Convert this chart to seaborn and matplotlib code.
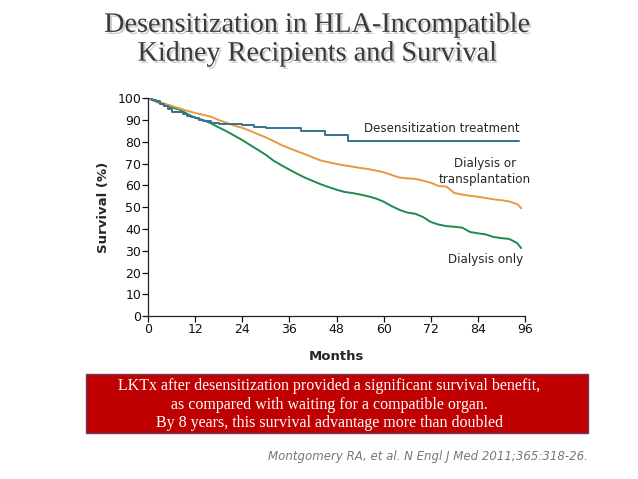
import numpy as np
import pandas as pd
import seaborn as sns
import matplotlib.pyplot as plt
import matplotlib.patheffects as pe
from matplotlib.patches import Rectangle

# 데이터
months = [0, 2, 4, 6, 8, 10, 12, 14, 16, 18, 20, 22, 24, 26, 28, 30, 32, 34, 36, 38,
          40, 42, 44, 46, 48, 50, 52, 54, 56, 58, 60, 62, 64, 66, 68, 70, 72, 74, 76, 78,
          80, 82, 84, 86, 88, 90, 92, 94, 95]

dialysis_or_tx = [100, 98.8, 97.6, 96.5, 95.3, 94.2, 93.2, 92.4, 91.5, 90, 88.7, 87.4,
                  86.4, 85, 83.5, 82, 80.3, 78.5, 77, 75.6, 74.3, 72.8, 71.4, 70.6, 69.8,
                  69.2, 68.6, 68, 67.5, 66.8, 66, 64.8, 63.6, 63.2, 63, 62.2, 61.2, 59.7,
                  59.4, 56.5, 55.8, 55.2, 54.8, 54.2, 53.6, 53.2, 52.6, 51.4, 49.5]

dialysis_only = [100, 98.5, 97, 95.8, 94.8, 92.8, 91, 90, 88.5, 86.6, 84.8, 82.8, 80.8,
                 78.5, 76.3, 74, 71.3, 69.2, 67.2, 65.3, 63.5, 62, 60.5, 59.2, 58, 57,
                 56.5, 55.8, 55, 54, 52.5, 50.5, 48.8, 47.5, 47, 45.5, 43.2, 42, 41.3, 41,
                 40.6, 38.6, 38, 37.5, 36.3, 35.8, 35.4, 33.5, 31.2]

desens_months = [0, 1, 2, 3, 4, 5, 6, 9, 10, 11, 12, 13, 14, 16, 18, 24, 27, 30, 39, 45, 51, 94.5]
desens_surv = [100, 99, 98.5, 97.5, 96.3, 95, 93.5, 92.8, 92, 91.5, 91, 90.2, 89.5, 88.8,
               88.3, 87.6, 86.8, 86.2, 85, 83.1, 80.5, 80.5]

x_ticks = [0, 12, 24, 36, 48, 60, 72, 84, 96]
y_ticks = list(range(0, 101, 10))

df = pd.DataFrame({'Months': months,
                   'Dialysis or transplantation': dialysis_or_tx,
                   'Dialysis only': dialysis_only})
df_des = pd.DataFrame({'Months': desens_months, 'Survival': desens_surv})

c_blue = '#35728f'
c_orange = '#e8983e'
c_green = '#1f8a4f'

sns.set_style('ticks')
plt.rcParams['font.family'] = ['DejaVu Sans']

fig = plt.figure(figsize=(6.38, 4.79), dpi=100)
ax = fig.add_axes([0.232, 0.340, 0.591, 0.455])

sns.lineplot(data=df, x='Months', y='Dialysis only', color=c_green, lw=1.4, ax=ax)
sns.lineplot(data=df, x='Months', y='Dialysis or transplantation', color=c_orange, lw=1.4, ax=ax)
sns.lineplot(data=df_des, x='Months', y='Survival', color=c_blue, lw=1.4,
             drawstyle='steps-post', ax=ax)

ax.set_xlim(0, 96)
ax.set_ylim(0, 100)
ax.set_xticks(x_ticks)
ax.set_yticks(y_ticks)
ax.tick_params(labelsize=9, length=4, width=0.9, colors='#111111', pad=1)
for s in ['left', 'bottom']:
    ax.spines[s].set_color('#222222')
    ax.spines[s].set_linewidth(0.9)
sns.despine(ax=ax)
ax.set_xlabel('Months', fontsize=9.5, fontweight='bold', labelpad=10)
ax.set_ylabel('Survival (%)', fontsize=9.5, fontweight='bold', labelpad=5)

# 곡선 라벨
ax.text(94.5, 86.0, 'Desensitization treatment', ha='right', va='center', fontsize=8.6)
ax.text(85.8, 66.2, 'Dialysis or\ntransplantation', ha='center', va='center',
        fontsize=8.6, linespacing=1.3)
ax.text(86.0, 26.2, 'Dialysis only', ha='center', va='center', fontsize=8.6)

# 제목
fig.text(0.498, 0.917, 'Desensitization in HLA-Incompatible\nKidney Recipients and Survival',
         ha='center', va='center', fontsize=20.3, family='Liberation Serif', color='#3a3a3a',
         linespacing=1.2,
         path_effects=[pe.withSimplePatchShadow(offset=(1.5, -1.5), shadow_rgbFace='#aaaaaa', alpha=0.6)])

# 빨간 박스
fig.patches.append(Rectangle((0.135, 0.096), 0.787, 0.123, transform=fig.transFigure,
                             facecolor='#c00000', edgecolor='#6b3a55', lw=1.0))
box_lines = ['LKTx after desensitization provided a significant survival benefit,',
             'as compared with waiting for a compatible organ.',
             'By 8 years, this survival advantage more than doubled']
box_y = [0.194, 0.155, 0.117]
for txt, by in zip(box_lines, box_y):
    fig.text(0.516, by, txt, ha='center', va='center', fontsize=11.5,
             family='Liberation Serif', color='white')

# 출처
fig.text(0.922, 0.046, 'Montgomery RA, et al. N Engl J Med 2011;365:318-26.',
         ha='right', va='center', fontsize=8.5, style='italic', color='#777777')

fig.savefig('out.png', dpi=100)
